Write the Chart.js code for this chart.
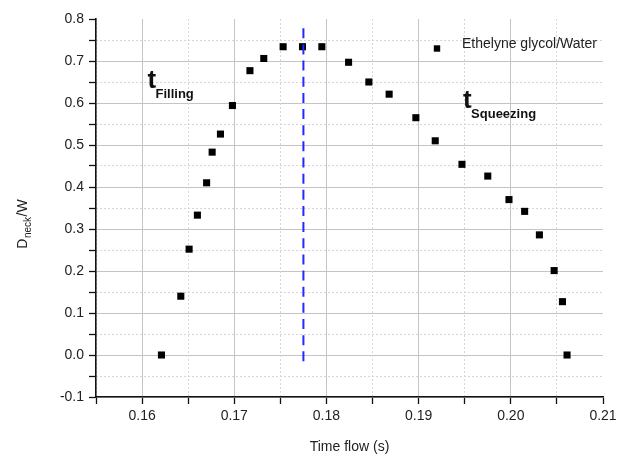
<!DOCTYPE html>
<html>
<head>
<meta charset="utf-8">
<script src="https://cdn.jsdelivr.net/npm/chart.js@4"></script>
<style>
  html, body { margin: 0; padding: 0; background: #fff; }
  canvas { display: block; }
</style>
</head>
<body>
<canvas id="c" width="625" height="457"></canvas>
<script>
// ---- data ----
const timeFlow = [0.1621, 0.1642, 0.1651, 0.1660, 0.1670, 0.1676, 0.1685, 0.1698, 0.1717, 0.1732, 0.1753, 0.1774, 0.1795,
                  0.1824, 0.1846, 0.1868, 0.1897, 0.1918, 0.1947, 0.1975, 0.1998, 0.2015, 0.2031, 0.2047, 0.2056, 0.2061];
const neckRatio = [0.000, 0.140, 0.252, 0.333, 0.410, 0.483, 0.526, 0.594, 0.677, 0.706, 0.734, 0.734, 0.734,
                   0.697, 0.650, 0.621, 0.565, 0.510, 0.454, 0.426, 0.370, 0.342, 0.286, 0.201, 0.127, 0.000];
const seriesLabel = 'Ethelyne glycol/Water';
const dividerX = [0.1775, 0.1775];
const dividerY = [-0.015, 0.779];
const xRange = [0.155, 0.21];
const yRange = [-0.1, 0.8];
const xTitle = 'Time flow (s)';
const yTitleParts = ['D', 'neck', '/W'];
const phaseLabels = [
  { main: 't', sub: 'Filling',   x: 0.16065, y: 0.6353 },
  { main: 't', sub: 'Squeezing', x: 0.19488, y: 0.5876 }
];

const FONT = '"Liberation Sans", Arial, sans-serif';
const TXT = '#222';

const points = timeFlow.map((x, i) => ({ x, y: neckRatio[i] }));
const divider = dividerX.map((x, i) => ({ x, y: dividerY[i] }));

const isMajor = (v, step) => Math.abs(v / step - Math.round(v / step)) < 1e-6;
const near = (a, b) => Math.abs(a - b) < 1e-9;

const overlay = {
  id: 'overlay',
  afterDraw(chart) {
    const ctx = chart.ctx;
    const xs = chart.scales.x, ys = chart.scales.y;
    const ca = chart.chartArea;
    ctx.save();
    // legend
    const lx = ca.right - 166, ly = ca.top + 29.5;
    ctx.fillStyle = '#000';
    ctx.beginPath();
    ctx.rect(lx - 3.2, ly - 3.2, 6.4, 6.4);
    ctx.fill();
    ctx.fillStyle = TXT;
    ctx.font = '14px ' + FONT;
    ctx.textBaseline = 'alphabetic';
    ctx.textAlign = 'left';
    ctx.fillText(seriesLabel, ca.right - 141, ca.top + 29);

    // phase labels
    phaseLabels.forEach(p => {
      const px = xs.getPixelForValue(p.x), py = ys.getPixelForValue(p.y);
      ctx.fillStyle = '#111';
      ctx.font = 'bold 26px ' + FONT;
      ctx.fillText(p.main, px - 0.5, py);
      const w = ctx.measureText(p.main).width;
      ctx.font = 'bold 13px ' + FONT;
      ctx.fillText(p.sub, px + w - 1.2, py + 9.5);
    });

    // y title with subscript
    ctx.fillStyle = TXT;
    ctx.translate(26.5, 0);
    ctx.rotate(-Math.PI / 2);
    ctx.font = '14px ' + FONT;
    const w1 = ctx.measureText(yTitleParts[0]).width;
    const w3 = ctx.measureText(yTitleParts[2]).width;
    ctx.font = '10px ' + FONT;
    const w2 = ctx.measureText(yTitleParts[1]).width;
    const total = w1 + w2 + w3 + 1;
    let start = -224 - total / 2;
    ctx.font = '14px ' + FONT;
    ctx.fillText(yTitleParts[0], start, 0);
    ctx.font = '10px ' + FONT;
    ctx.fillText(yTitleParts[1], start + w1 + 0.5, 4);
    ctx.font = '14px ' + FONT;
    ctx.fillText(yTitleParts[2], start + w1 + w2 + 1, 0);
    ctx.restore();
  }
};

new Chart(document.getElementById('c'), {
  type: 'scatter',
  data: {
    datasets: [
      {
        label: seriesLabel,
        data: points,
        pointStyle: 'rect',
        pointRadius: 5,
        pointHoverRadius: 5,
        backgroundColor: '#000',
        borderColor: '#000',
        borderWidth: 0,
        order: 2
      },
      {
        label: 'divider',
        type: 'line',
        data: divider,
        borderColor: '#1f2bff',
        borderWidth: 2,
        borderDash: [10, 6.15],
        pointRadius: 0,
        fill: false,
        showLine: true,
        order: 1
      }
    ]
  },
  options: {
    responsive: false,
    animation: false,
    devicePixelRatio: 1,
    layout: { padding: { top: 19, right: 22, left: 0, bottom: 0 } },
    plugins: { legend: { display: false }, tooltip: { enabled: false } },
    scales: {
      x: {
        type: 'linear', position: 'bottom',
        min: xRange[0], max: xRange[1],
        afterFit: s => { s.height = 60; },
        ticks: {
          stepSize: 0.005, autoSkip: false, maxRotation: 0, padding: 4,
          color: TXT, font: { family: FONT, size: 14 },
          callback: v => isMajor(v, 0.01) ? v.toFixed(2) : ''
        },
        grid: {
          color: c => (isMajor(c.tick.value, 0.01) && !near(c.tick.value, xRange[1])) ? '#c4c4c4' : 'rgba(0,0,0,0)',
          lineWidth: 1,
          tickColor: '#111', tickLength: 7, tickWidth: 1.3
        },
        border: { display: true, color: '#111', width: 1.6 },
        title: { display: true, text: xTitle, color: TXT, font: { family: FONT, size: 14 }, padding: { top: 0, bottom: 1 } }
      },
      y: {
        type: 'linear', position: 'left',
        min: yRange[0], max: yRange[1],
        afterFit: s => { s.width = 96; },
        ticks: {
          stepSize: 0.05, autoSkip: false, padding: 5,
          color: TXT, font: { family: FONT, size: 14 },
          callback: v => isMajor(v, 0.1) ? v.toFixed(1) : ''
        },
        grid: {
          color: c => (isMajor(c.tick.value, 0.1) && !near(c.tick.value, yRange[1])) ? '#c4c4c4' : 'rgba(0,0,0,0)',
          lineWidth: 1,
          tickColor: '#111', tickLength: 7, tickWidth: 1.3
        },
        border: { display: true, color: '#111', width: 1.6 }
      },
      x2: {
        type: 'linear', position: 'top',
        min: xRange[0], max: xRange[1],
        afterFit: s => { s.height = 0; },
        ticks: { display: false, stepSize: 0.005, autoSkip: false },
        grid: {
          color: c => isMajor(c.tick.value, 0.01) ? 'rgba(0,0,0,0)' : '#d6d6d6',
          drawTicks: false, lineWidth: 1
        },
        border: { display: false, dash: [2, 2] }
      },
      y2: {
        type: 'linear', position: 'right',
        min: yRange[0], max: yRange[1],
        afterFit: s => { s.width = 0; },
        ticks: { display: false, stepSize: 0.05, autoSkip: false },
        grid: {
          color: c => isMajor(c.tick.value, 0.1) ? 'rgba(0,0,0,0)' : '#d6d6d6',
          drawTicks: false, lineWidth: 1
        },
        border: { display: false, dash: [2, 2] }
      }
    }
  },
  plugins: [overlay]
});
</script>
</body>
</html>
